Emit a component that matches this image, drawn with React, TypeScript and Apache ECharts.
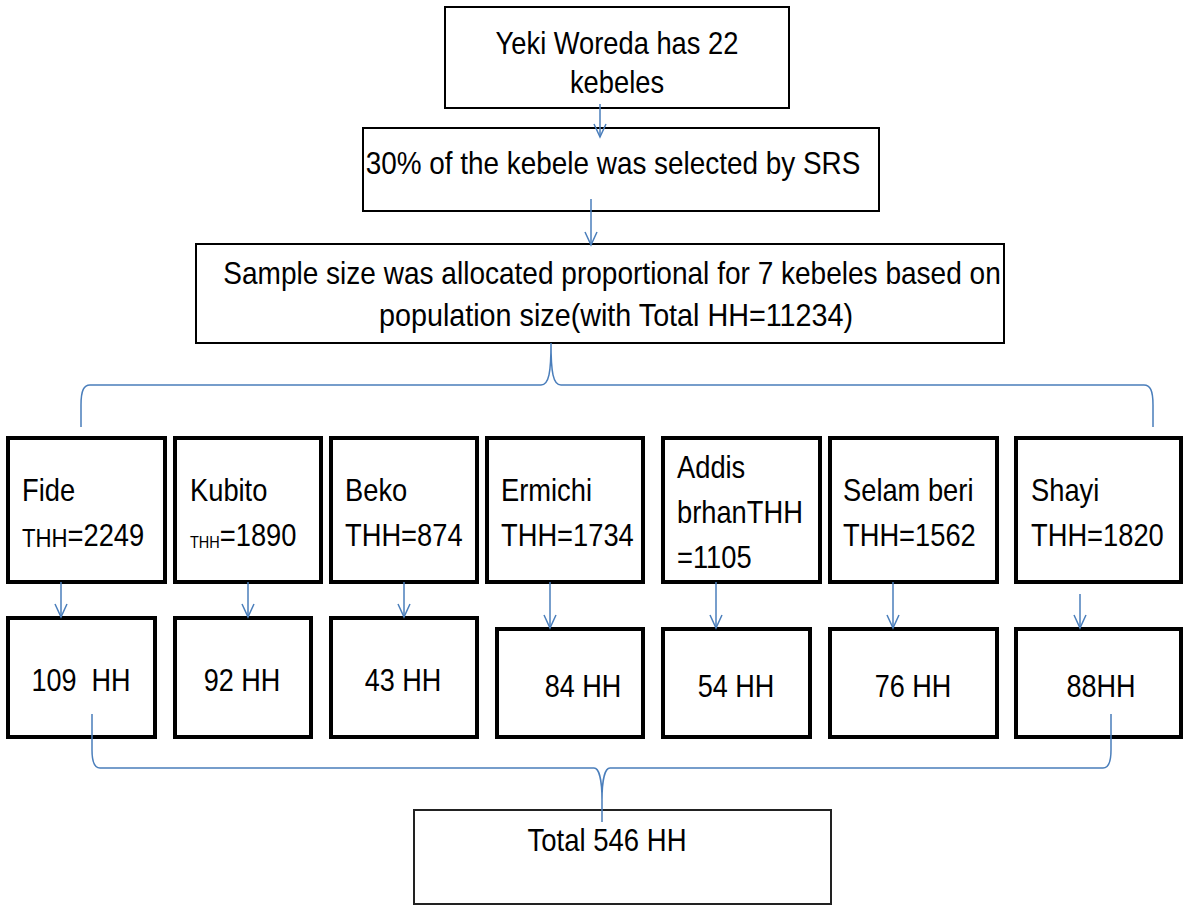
import React, { useEffect, useRef } from "react";
import * as echarts from "echarts";

// ---- data ----
const kebeleCount = 22;
const selectedPercent = 30;
const selectedKebeles = 7;
const totalHouseholds = 11234;
const kebeleNames = ["Fide", "Kubito", "Beko", "Ermichi", "Addis brhan", "Selam beri", "Shayi"];
const kebeleTHH = [2249, 1890, 874, 1734, 1105, 1562, 1820];
const sampleHH = [109, 92, 43, 84, 54, 76, 88];
const sampleSeparators = ["  ", " ", " ", " ", " ", " ", ""];
const totalSample = 546;

// ---- layout & style ----
const FONT = '"Liberation Sans", Arial, sans-serif';
const FS = 32;
const BLUE = "#4a7ebb";
const row1X = [[8, 165], [175, 321], [331, 477], [487, 643], [663, 820], [830, 997], [1016, 1181]];
const row2X = [[8, 155], [175, 311], [331, 477], [497, 643], [663, 810], [830, 997], [1016, 1181]];
const row2Top = [618, 618, 618, 629, 629, 629, 629];
const arrowX = [61, 248, 404, 550, 716, 893, 1080];
const arrowStart = [582, 582, 582, 582, 582, 582, 594];
const nameX = [22, 190, 345, 501, 677, 843, 1031];
const thhPrefixSize = [26, 17, FS, FS, FS, FS, FS];
const row2TextX = [81, 242, 403, 583, 736, 913, 1101];
const row2TextY = [680, 680, 680, 686, 686, 686, 686];

function rect(x1: number, y1: number, x2: number, y2: number, lw: number, stroke = "#000") {
  return {
    type: "rect",
    shape: { x: x1, y: y1, width: x2 - x1, height: y2 - y1 },
    style: { fill: "#fff", stroke, lineWidth: lw },
  };
}

function txt(x: number, y: number, text: string, size: number, sx: number, align = "center", rich?: any) {
  return {
    type: "text",
    x,
    y,
    scaleX: sx,
    style: {
      text,
      fontFamily: FONT,
      fontSize: size,
      fill: "#000",
      align,
      verticalAlign: "middle",
      rich,
    },
  };
}

function arrow(x: number, y1: number, y2: number) {
  return [
    { type: "line", shape: { x1: x, y1, x2: x, y2 }, style: { stroke: BLUE, lineWidth: 1.5 } },
    {
      type: "polyline",
      shape: { points: [[x - 6, y2 - 13], [x, y2], [x + 6, y2 - 13]] },
      style: { stroke: BLUE, lineWidth: 1.5, fill: "none" },
    },
  ];
}

const braceTopD =
  "M551,343 C551,372 549,385 541,385 L90,385 C84,385 81,390 81,405 L81,427 " +
  "M551,343 C551,372 553,385 561,385 L1144,385 C1150,385 1153,390 1153,405 L1153,427";
const braceBottomD =
  "M92,714 L92,750 C92,762 95,768 100,768 L594,768 C599,768 602,780 602,800 L602,822 " +
  "M602,800 C602,780 605,768 610,768 L1103,768 C1108,768 1111,762 1111,750 L1111,714";

export default function App() {
  const ref = useRef<HTMLDivElement>(null);
  useEffect(() => {
    if (!ref.current) return;
    echarts.graphic.registerShape("braceTop", echarts.graphic.extendPath(braceTopD, {}));
    echarts.graphic.registerShape("braceBottom", echarts.graphic.extendPath(braceBottomD, {}));
    const chart = echarts.init(ref.current, null, { renderer: "svg" });
    const els: any[] = [];

    // top boxes
    els.push(rect(445, 7, 789, 108, 2));
    els.push(txt(617, 43, `Yeki Woreda has ${kebeleCount}`, FS, 0.853));
    els.push(txt(617, 82, "kebeles", FS, 0.853));
    els.push(rect(363, 128, 879, 211, 2));
    els.push(txt(613, 163, `${selectedPercent}% of the kebele was selected by SRS`, FS, 0.872));
    els.push(rect(196, 244, 1004, 343, 2));
    els.push(txt(612, 273, `Sample size was allocated proportional for ${selectedKebeles} kebeles based on`, FS, 0.876));
    els.push(txt(616, 314, `population size(with Total HH=${totalHouseholds})`, FS, 0.898));
    els.push(...arrow(600, 104, 137));
    els.push(...arrow(591, 199, 245));

    // kebele boxes
    kebeleNames.forEach((name, i) => {
      els.push(rect(row1X[i][0], 438, row1X[i][1], 582, 4));
      const rich = {
        s: { fontFamily: FONT, fontSize: thhPrefixSize[i], fill: "#000", verticalAlign: "bottom" },
        n: { fontFamily: FONT, fontSize: FS, fill: "#000", verticalAlign: "bottom" },
      };
      if (i === 4) {
        const [a, b] = name.split(" ");
        els.push(txt(nameX[i], 467, a, FS, 0.853, "left"));
        els.push(txt(nameX[i], 512, `${b}THH`, FS, 0.853, "left"));
        els.push(txt(nameX[i], 557, `=${kebeleTHH[i]}`, FS, 0.853, "left"));
      } else {
        els.push(txt(nameX[i], 490, name, FS, 0.853, "left"));
        els.push(txt(nameX[i], 535, `{s|THH}{n|=${kebeleTHH[i]}}`, FS, 0.853, "left", rich));
      }
      els.push(rect(row2X[i][0], row2Top[i], row2X[i][1], 737, 4));
      els.push(txt(row2TextX[i], row2TextY[i], `${sampleHH[i]}${sampleSeparators[i]}HH`, FS, 0.845));
    });
    kebeleNames.forEach((_, i) => {
      els.push(...arrow(arrowX[i], arrowStart[i], row2Top[i] - 1));
    });

    // total box
    els.push(rect(414, 810, 831, 904, 2, "#222"));
    els.push(txt(607, 840, `Total ${totalSample} HH`, FS, 0.86));

    // braces
    els.push({ type: "braceTop", x: 0, y: 0, style: { stroke: BLUE, fill: "none", lineWidth: 1.5 } });
    els.push({ type: "braceBottom", x: 0, y: 0, style: { stroke: BLUE, fill: "none", lineWidth: 1.5 } });

    chart.setOption({
      animation: false,
      backgroundColor: "#fff",
      graphic: { elements: els },
    });
    return () => chart.dispose();
  }, []);
  return (
    <div
      ref={ref}
      style={{ position: "fixed", left: 0, top: 0, width: 1183, height: 905, background: "#fff" }}
    />
  );
}
